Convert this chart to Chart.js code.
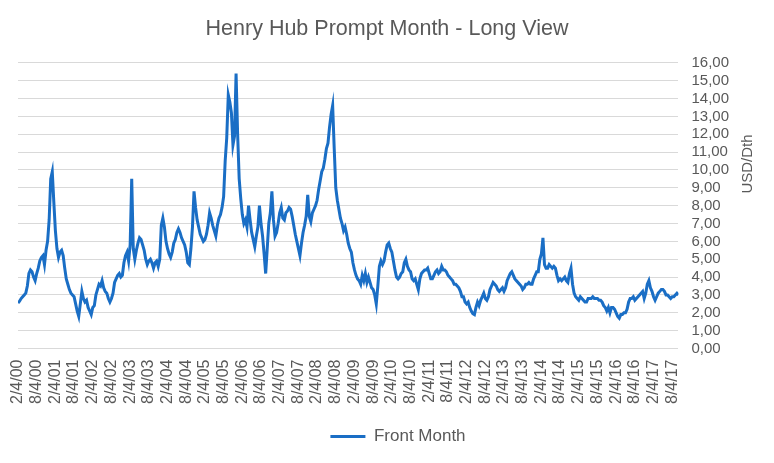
<!DOCTYPE html>
<html>
<head>
<meta charset="utf-8">
<script src="https://cdn.jsdelivr.net/npm/chart.js@4/dist/chart.umd.min.js"></script>
<style>
  body { margin: 0; background: #fff; }
  #wrap { width: 774px; height: 463px; }
</style>
</head>
<body>
<div id="wrap"><canvas id="myChart" width="774" height="463"></canvas></div>
<script>
// tick labels, one every 6 months starting 2/4/2000
const tickLabels = [
  '2/4/00', '8/4/00', '2/4/01', '8/4/01', '2/4/02', '8/4/02', '2/4/03', '8/4/03',
  '2/4/04', '8/4/04', '2/4/05', '8/4/05', '2/4/06', '8/4/06', '2/4/07', '8/4/07',
  '2/4/08', '8/4/08', '2/4/09', '8/4/09', '2/4/10', '8/4/10', '2/4/11', '8/4/11',
  '2/4/12', '8/4/12', '2/4/13', '8/4/13', '2/4/14', '8/4/14', '2/4/15', '8/4/15',
  '2/4/16', '8/4/16', '2/4/17', '8/4/17'
];

// front month price, USD/Dth, two readings per month (2000 starts in February)
const p2000 = [2.55, 2.65, 2.8, 2.9, 3.0, 3.1, 3.5, 4.2, 4.4, 4.3, 4.0, 3.8, 4.2, 4.5, 4.9, 5.1, 5.2, 4.7, 5.5, 6.0, 7.2, 9.5];
const p2001 = [9.9, 8.2, 6.6, 5.6, 5.1, 5.4, 5.5, 5.2, 4.5, 3.9, 3.6, 3.3, 3.1, 3.0, 2.9, 2.5, 2.1, 1.8, 2.5, 3.2, 2.8, 2.6, 2.7, 2.3];
const p2002 = [2.1, 1.9, 2.3, 2.4, 3.0, 3.3, 3.6, 3.5, 3.8, 3.4, 3.2, 3.1, 2.8, 2.6, 2.8, 3.1, 3.7, 3.9, 4.1, 4.2, 4.0, 4.1, 4.8, 5.2];
const p2003 = [5.4, 4.9, 5.8, 9.5, 5.6, 5.0, 5.5, 5.9, 6.2, 6.1, 5.8, 5.5, 5.0, 4.7, 4.9, 5.0, 4.8, 4.5, 4.8, 4.9, 4.6, 5.0, 6.9, 7.3];
const p2004 = [6.8, 6.0, 5.6, 5.3, 5.1, 5.4, 5.9, 6.1, 6.5, 6.7, 6.5, 6.2, 6.0, 5.8, 5.4, 4.8, 4.7, 5.6, 6.8, 8.8, 7.9, 7.2, 6.8, 6.4];
const p2005 = [6.2, 6.0, 6.1, 6.4, 6.9, 7.6, 7.3, 6.9, 6.6, 6.3, 6.9, 7.3, 7.5, 7.9, 8.5, 10.5, 11.8, 14.2, 13.8, 13.2, 11.4, 11.9, 15.4, 12.0];
const p2006 = [9.5, 8.4, 7.5, 7.0, 7.2, 6.8, 8.0, 7.2, 6.5, 6.1, 5.7, 6.3, 6.8, 8.0, 7.0, 6.3, 5.3, 4.2, 5.6, 7.0, 7.6, 8.8, 7.2, 6.3];
const p2007 = [6.5, 7.0, 7.6, 7.9, 7.3, 7.2, 7.6, 7.7, 7.9, 7.8, 7.4, 6.9, 6.4, 6.0, 5.6, 5.2, 5.9, 6.5, 6.9, 7.4, 8.6, 7.4, 7.1, 7.6];
const p2008 = [7.8, 8.0, 8.3, 8.9, 9.4, 9.9, 10.1, 10.6, 11.2, 11.5, 12.4, 13.1, 13.6, 11.2, 9.0, 8.3, 7.8, 7.3, 7.0, 6.6, 6.8, 6.4, 5.9, 5.6];
const p2009 = [5.4, 4.8, 4.4, 4.1, 3.9, 3.8, 3.6, 4.1, 3.8, 4.2, 3.7, 4.0, 3.7, 3.4, 3.3, 3.0, 2.5, 3.5, 4.6, 4.9, 4.7, 4.9, 5.4, 5.8];
const p2010 = [5.9, 5.6, 5.4, 4.9, 4.4, 4.0, 3.9, 4.0, 4.2, 4.3, 4.8, 5.0, 4.6, 4.4, 4.3, 3.9, 3.8, 3.9, 3.6, 3.3, 3.9, 4.2, 4.3, 4.4];
const p2011 = [4.4, 4.5, 4.2, 3.9, 3.9, 4.1, 4.3, 4.4, 4.2, 4.3, 4.6, 4.4, 4.4, 4.3, 4.1, 4.0, 3.9, 3.8, 3.6, 3.6, 3.5, 3.4, 3.2, 2.9];
const p2012 = [2.9, 2.6, 2.5, 2.6, 2.3, 2.1, 1.95, 1.9, 2.3, 2.6, 2.4, 2.7, 2.9, 3.1, 2.8, 2.7, 2.9, 3.3, 3.5, 3.7, 3.6, 3.5, 3.3, 3.2];
const p2013 = [3.3, 3.4, 3.2, 3.4, 3.8, 4.0, 4.2, 4.3, 4.1, 3.9, 3.8, 3.7, 3.6, 3.5, 3.3, 3.4, 3.6, 3.6, 3.7, 3.6, 3.6, 3.9, 4.1, 4.3];
const p2014 = [4.3, 5.0, 5.3, 6.2, 4.7, 4.5, 4.5, 4.7, 4.6, 4.5, 4.6, 4.5, 4.1, 3.8, 3.9, 3.8, 3.9, 4.0, 3.8, 3.7, 4.2, 4.5, 3.6, 3.1];
const p2015 = [2.9, 2.8, 2.7, 2.9, 2.8, 2.7, 2.6, 2.6, 2.8, 2.8, 2.8, 2.9, 2.8, 2.8, 2.8, 2.7, 2.7, 2.6, 2.4, 2.3, 2.1, 2.3, 2.0, 2.3];
const p2016 = [2.3, 2.2, 2.0, 1.8, 1.7, 1.9, 1.9, 2.0, 2.0, 2.2, 2.6, 2.8, 2.8, 2.9, 2.7, 2.8, 2.9, 3.0, 3.1, 3.2, 2.8, 3.1, 3.6, 3.8];
const p2017 = [3.4, 3.2, 2.9, 2.7, 2.9, 3.1, 3.2, 3.3, 3.3, 3.2, 3.0, 3.0, 2.9, 2.8, 2.9, 2.9, 3.0, 3.1, 3.0];

const years = [
  [2000, p2000], [2001, p2001], [2002, p2002], [2003, p2003], [2004, p2004], [2005, p2005],
  [2006, p2006], [2007, p2007], [2008, p2008], [2009, p2009], [2010, p2010], [2011, p2011],
  [2012, p2012], [2013, p2013], [2014, p2014], [2015, p2015], [2016, p2016], [2017, p2017]
];

// x = months after 2/4/2000
const points = [];
years.forEach(([yr, vals]) => {
  const first = yr === 2000 ? 0 : (yr - 2000) * 12 - 1;
  vals.forEach((v, i) => points.push({ x: first + i * 0.5, y: v }));
});

const grey = '#595959';
const font = 'Liberation Sans, Arial, sans-serif';

const axisTitle = {
  id: 'axisTitle',
  afterLayout(chart) {
    // legend and title sit a bit right of centre in the original
    chart.legend.left += 18;
    chart.legend.right += 18;
    chart.legend.top += 3;
    chart.legend.bottom += 3;
    chart.titleBlock.left += 7;
    chart.titleBlock.right += 7;
  },
  afterDraw(chart) {
    const ctx = chart.ctx;
    ctx.save();
    ctx.translate(748, 164);
    ctx.rotate(-Math.PI / 2);
    ctx.font = '15px ' + font;
    ctx.fillStyle = grey;
    ctx.textAlign = 'center';
    ctx.textBaseline = 'middle';
    ctx.fillText('USD/Dth', 0, 0);
    ctx.restore();
  }
};

const config = {
  type: 'line',
  data: {
    datasets: [{
      label: 'Front Month',
      data: points,
      borderColor: '#1a6ec5',
      backgroundColor: '#1a6ec5',
      borderWidth: 3,
      pointRadius: 0,
      tension: 0
    }]
  },
  options: {
    responsive: false,
    animation: false,
    layout: { padding: { left: 18, right: 32, top: 0, bottom: 11 } },
    scales: {
      x: {
        type: 'linear',
        min: 0,
        max: 212,
        afterBuildTicks: (scale) => {
          scale.ticks = tickLabels.map((_, i) => ({ value: i * 6 }));
        },
        grid: { display: false, drawTicks: false },
        border: { display: false },
        ticks: {
          autoSkip: false,
          minRotation: 90,
          maxRotation: 90,
          padding: 11,
          color: grey,
          font: { family: font, size: 16 },
          callback: (v) => tickLabels[Math.round(v / 6)]
        }
      },
      y: {
        position: 'right',
        min: 0,
        max: 16,
        grid: { color: '#d9d9d9', lineWidth: 1, drawTicks: false },
        border: { display: false },
        ticks: {
          stepSize: 1,
          autoSkip: false,
          padding: 13,
          color: grey,
          font: { family: font, size: 15 },
          callback: (v) => v.toFixed(2).replace('.', ',')
        }
      }
    },
    plugins: {
      title: {
        display: true,
        text: 'Henry Hub Prompt Month - Long View',
        color: grey,
        font: { family: font, size: 21.5, weight: 'normal' },
        padding: { top: 16, bottom: 21 }
      },
      legend: {
        position: 'bottom',
        labels: {
          usePointStyle: true,
          pointStyle: 'line',
          pointStyleWidth: 35,
          color: grey,
          font: { family: font, size: 17 }
        }
      },
      tooltip: { enabled: false }
    }
  },
  plugins: [axisTitle]
};

const myChart = new Chart(document.getElementById('myChart'), config);
</script>
</body>
</html>
